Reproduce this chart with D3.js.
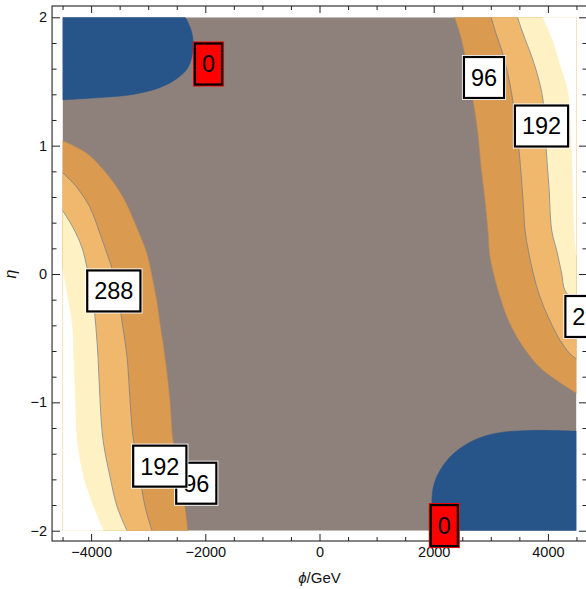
<!DOCTYPE html>
<html><head><meta charset="utf-8">
<script src="https://cdn.jsdelivr.net/npm/d3@7"></script>
<style>
body{margin:0;background:#fff}
svg{display:block;font-family:"Liberation Sans",Arial,Helvetica,sans-serif}
</style>
</head><body>
<svg id="c" width="586" height="589"></svg>
<script>
// ---- data (phi in GeV, eta) ----
const xDomain = [-4500, 4500];
const yDomain = [-2, 2];
const xMajorTicks = [-4000, -2000, 0, 2000, 4000];
const xMinorTicks = [-4500,-3500,-3000,-2500,-1500,-1000,-500,500,1000,1500,2500,3000,3500,4500];
const yMajorTicks = [-2, -1, 0, 1, 2];
const yMinorTicks = [-1.8,-1.6,-1.4,-1.2,-0.8,-0.6,-0.4,-0.2,0.2,0.4,0.6,0.8,1.2,1.4,1.6,1.8];
const contourLevels = [0, 96, 192, 288];

// level-0 contours (blue regions)
const zeroTopLeft = [[-4500,1.357],[-3844,1.375],[-3266,1.399],[-2793,1.453],[-2496,1.523],[-2303,1.609],[-2215,1.741],[-2233,1.874],[-2320,1.975],[-2356,2]];
const zeroBottomRight = [[4500,-1.225],[3687,-1.219],[3103,-1.240],[2694,-1.297],[2343,-1.401],[2110,-1.531],[1993,-1.661],[1965,-1.817],[1965,-2]];

// left (lower-left) contours, from left edge to bottom edge
const left96 = [[-4500,1.04],[-4072,0.94],[-3722,0.78],[-3441,0.60],[-3196,0.36],[-3021,0.16],[-2916,-0.05],[-2846,-0.21],[-2793,-0.38],[-2706,-0.64],[-2618,-0.98],[-2566,-1.29],[-2443,-1.58],[-2356,-1.81],[-2303,-2]];
const left192 = [[-4500,0.791],[-4247,0.674],[-4019,0.518],[-3844,0.315],[-3722,0.160],[-3634,0.043],[-3529,-0.129],[-3476,-0.316],[-3371,-0.643],[-3319,-0.978],[-3266,-1.266],[-3144,-1.578],[-3056,-1.811],[-2933,-2]];
const left288 = [[-4500,0.495],[-4317,0.362],[-4160,0.206],[-4072,0.051],[-3984,-0.129],[-3932,-0.331],[-3879,-0.643],[-3844,-0.978],[-3792,-1.289],[-3669,-1.578],[-3546,-1.811],[-3371,-2]];
const leftOuter = [[-4500,0.04],[-4440,-0.12],[-4340,-0.38],[-4312,-0.64],[-4282,-0.98],[-4252,-1.29],[-4137,-1.58],[-3989,-1.78],[-3786,-2]];

// right (upper-right) contours, from top edge to right edge
const right96 = [[2361,2],[2478,1.84],[2683,1.36],[2771,1.10],[2828,0.83],[2898,0.57],[2951,0.32],[2986,0.13],[3161,-0.18],[3336,-0.39],[3569,-0.57],[3862,-0.73],[4154,-0.83],[4500,-0.93]];
const right192 = [[3004,2],[3091,1.874],[3208,1.718],[3296,1.562],[3384,1.356],[3494,0.962],[3529,0.783],[3573,0.518],[3599,0.339],[3657,0.183],[3744,0.002],[3862,-0.181],[4007,-0.337],[4182,-0.493],[4387,-0.622],[4500,-0.662]];
const right288 = [[3468,2],[3564,1.874],[3722,1.687],[3844,1.508],[3914,1.356],[3967,0.986],[4019,0.674],[4067,0.339],[4154,0.183],[4242,0.002],[4299,-0.129],[4500,-0.23]];
const rightOuter = [[3909,2],[4084,1.823],[4229,1.611],[4352,1.430],[4405,1.095],[4440,0.705],[4466,0.315],[4500,0.144]];

// contour labels
const labelText = ["0", "96", "192", "288", "96", "192", "0", "288"];
const labelPhi  = [-1944, 2881, 3888, -3602, -2158, -2797, 2186, 4772];
const labelEta  = [1.636, 1.531, 1.153, -0.132, -1.630, -1.497, -1.960, -0.331];

// colours
const bandColors = {blue:"#27558a", gray:"#8e807b", orange:"#da9a50", light:"#efb86d", pale:"#fef1c3", white:"#ffffff"};

// ---- drawing ----
const svg = d3.select("#c");
const x = d3.scaleLinear().domain(xDomain).range([62.55, 576.45]);
const y = d3.scaleLinear().domain(yDomain).range([530.7, 17.3]);

const defs = svg.append("defs");
defs.append("clipPath").attr("id","plot").append("rect")
  .attr("x", x(xDomain[0])).attr("y", y(yDomain[1]))
  .attr("width", x(xDomain[1]) - x(xDomain[0])).attr("height", y(yDomain[0]) - y(yDomain[1]));

const g = svg.append("g").attr("clip-path","url(#plot)");
g.append("rect")
  .attr("x", x(xDomain[0])).attr("y", y(yDomain[1]))
  .attr("width", x(xDomain[1]) - x(xDomain[0])).attr("height", y(yDomain[0]) - y(yDomain[1]))
  .attr("fill", bandColors.gray);

const curveLine = d3.line().x(d => x(d[0])).y(d => y(d[1])).curve(d3.curveCatmullRom.alpha(0.5));
function regionPath(curve, corner){
  return curveLine(curve) + "L" + x(corner[0]) + "," + y(corner[1]) + "Z";
}
const regions = [
  [left96, [-4500,-2], bandColors.orange],
  [left192, [-4500,-2], bandColors.light],
  [left288, [-4500,-2], bandColors.pale],
  [leftOuter, [-4500,-2], bandColors.white],
  [right96, [4500,2], bandColors.orange],
  [right192, [4500,2], bandColors.light],
  [right288, [4500,2], bandColors.pale],
  [rightOuter, [4500,2], bandColors.white],
  [zeroTopLeft, [-4500,2], bandColors.blue],
  [zeroBottomRight, [4500,-2], bandColors.blue]
];
regions.forEach(([c, corner, col]) => {
  g.append("path").attr("d", regionPath(c, corner)).attr("fill", col).attr("stroke", col).attr("stroke-width", 0.5);
});
// contour lines
[[left96,0.35],[right96,0.35],[left192,0.8],[right192,0.8],[left288,0.8],[right288,0.8]].forEach(([c,op]) => {
  g.append("path").attr("d", curveLine(c)).attr("fill","none")
    .attr("stroke","#6f7585").attr("stroke-opacity",op).attr("stroke-width",0.9);
});

// frame
const fx0 = x(xDomain[0]) - 10.5, fx1 = x(xDomain[1]) + 10.5;
const fy0 = y(yDomain[1]) - 11.3, fy1 = y(yDomain[0]) + 10.3;
svg.append("rect").attr("x",fx0).attr("y",fy0).attr("width",fx1-fx0).attr("height",fy1-fy0)
  .attr("fill","none").attr("stroke","#222").attr("stroke-width",1.1);

function styleAxis(sel){
  sel.select(".domain").remove();
  sel.selectAll("line").attr("stroke","#222").attr("stroke-width",1);
  sel.selectAll("text").attr("font-size","14.5px").attr("fill","#111").attr("font-family",'"Liberation Sans",Arial,sans-serif');
}
const fmt = d3.format("d");
svg.append("g").attr("transform",`translate(0,${fy1})`)
  .call(d3.axisBottom(x).tickValues(xMajorTicks).tickSize(-7).tickPadding(6).tickFormat(fmt)).call(styleAxis);
svg.append("g").attr("transform",`translate(0,${fy1})`)
  .call(d3.axisBottom(x).tickValues(xMinorTicks).tickSize(-4).tickFormat("")).call(styleAxis);
svg.append("g").attr("transform",`translate(0,${fy0})`)
  .call(d3.axisTop(x).tickValues(xMajorTicks).tickSize(-7).tickFormat("")).call(styleAxis);
svg.append("g").attr("transform",`translate(0,${fy0})`)
  .call(d3.axisTop(x).tickValues(xMinorTicks).tickSize(-4).tickFormat("")).call(styleAxis);
svg.append("g").attr("transform",`translate(${fx0},0)`)
  .call(d3.axisLeft(y).tickValues(yMajorTicks).tickSize(-8).tickPadding(5).tickFormat(fmt)).call(styleAxis);
svg.append("g").attr("transform",`translate(${fx0},0)`)
  .call(d3.axisLeft(y).tickValues(yMinorTicks).tickSize(-4.5).tickFormat("")).call(styleAxis);
svg.append("g").attr("transform",`translate(${fx1},0)`)
  .call(d3.axisRight(y).tickValues(yMajorTicks).tickSize(-8).tickFormat("")).call(styleAxis);
svg.append("g").attr("transform",`translate(${fx1},0)`)
  .call(d3.axisRight(y).tickValues(yMinorTicks).tickSize(-4.5).tickFormat("")).call(styleAxis);

// axis titles
const xt = svg.append("text").attr("x", x(0)).attr("y", 583).attr("text-anchor","middle")
  .attr("font-size","15px").attr("fill","#111");
xt.append("tspan").attr("font-style","italic").text("ϕ");
xt.append("tspan").text("/GeV");
svg.append("text").attr("transform",`translate(16,${y(0)}) rotate(-90)`).attr("text-anchor","middle")
  .attr("font-size","16px").attr("font-style","italic").attr("fill","#111").text("η");

// contour labels
const lg = svg.append("g");
labelText.forEach((t, i) => {
  const cx = x(labelPhi[i]), cy = y(labelEta[i]);
  const red = t === String(contourLevels[0]);
  const grp = lg.append("g");
  const txt = grp.append("text").attr("x",cx).attr("y",cy).attr("dy","0.36em")
    .attr("text-anchor","middle").attr("font-size","23.5px").attr("fill","#000").text(t);
  const w = txt.node().getComputedTextLength() + 16, h = 43;
  grp.insert("rect","text").attr("x",cx-w/2-1).attr("y",cy-h/2-1).attr("width",w+2).attr("height",h+2)
    .attr("fill", red ? "#ff0000" : "#ffffff").attr("stroke","none");
  grp.insert("rect","text").attr("x",cx-w/2+1).attr("y",cy-h/2+1).attr("width",w-2).attr("height",h-2)
    .attr("fill", red ? "#ff0000" : "#ffffff").attr("stroke","#000").attr("stroke-width",2.2);
});
</script>
</body></html>
